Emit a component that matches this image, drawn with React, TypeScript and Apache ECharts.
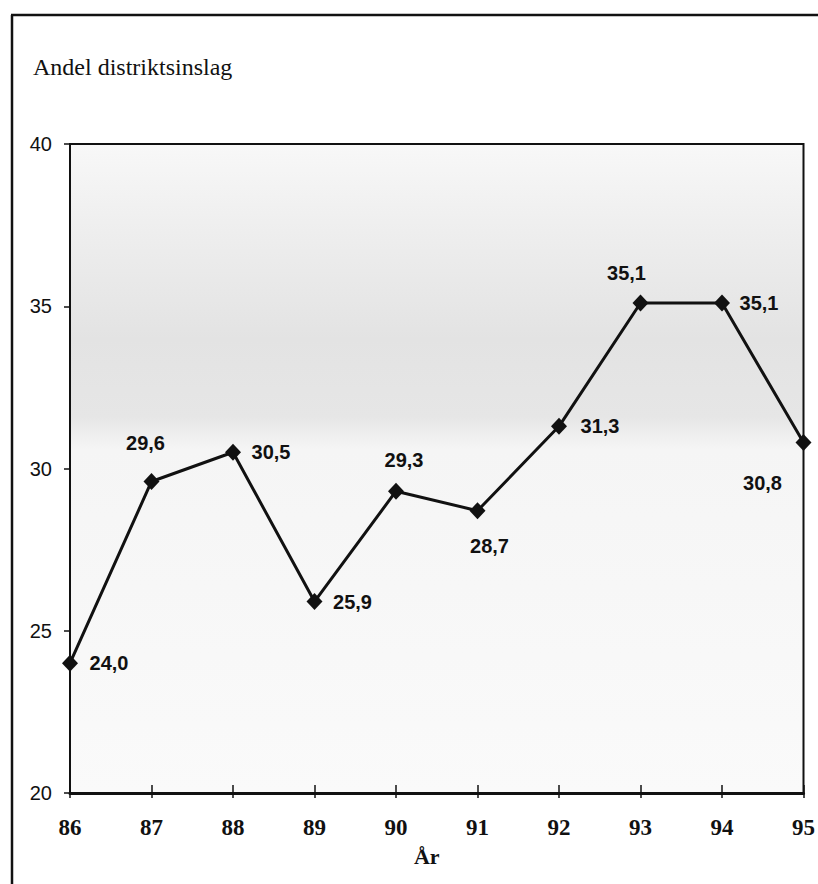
import React, { useEffect, useRef } from "react";
import * as echarts from "echarts";

const years = ["86", "87", "88", "89", "90", "91", "92", "93", "94", "95"];
const shares = [24.0, 29.6, 30.5, 25.9, 29.3, 28.7, 31.3, 35.1, 35.1, 30.8];
// label offsets (dx, dy) from the marker centre
const labelOffsets: [number, number][] = [
  [39, 0],
  [-6, -38],
  [38, 0],
  [38, 0],
  [8, -31],
  [12, 35],
  [41, 0],
  [-14, -30],
  [37, 0],
  [-41, 40],
];
const yTicks = { min: 20, max: 40, interval: 5 };
const titleText = "Andel distriktsinslag";
const xName = "År";

export default function App() {
  const ref = useRef<HTMLDivElement>(null);
  useEffect(() => {
    if (!ref.current) return;
    const chart = echarts.init(ref.current, null, { renderer: "svg" });
    const fmt = (v: number) => v.toFixed(1).replace(".", ",");
    chart.setOption({
      animation: false,
      backgroundColor: "#ffffff",
      title: {
        text: titleText,
        left: 33,
        top: 55,
        padding: 0,
        textStyle: {
          fontFamily: "Liberation Serif",
          fontSize: 24,
          fontWeight: "normal",
          color: "#111",
        },
      },
      graphic: [
        { type: "line", shape: { x1: 11, y1: 15, x2: 818, y2: 15 }, style: { stroke: "#111", lineWidth: 2.5 } },
        { type: "line", shape: { x1: 12, y1: 15, x2: 12, y2: 884 }, style: { stroke: "#111", lineWidth: 2.5 } },
      ],
      grid: {
        left: 70,
        right: 13,
        top: 144,
        bottom: 91,
        show: true,
        borderColor: "#111",
        borderWidth: 2,
        backgroundColor: {
          type: "linear",
          x: 0,
          y: 0,
          x2: 0,
          y2: 1,
          colorStops: [
            { offset: 0, color: "#f8f8f8" },
            { offset: 0.12, color: "#efefef" },
            { offset: 0.3, color: "#e3e3e3" },
            { offset: 0.42, color: "#e6e6e6" },
            { offset: 0.47, color: "#f5f5f5" },
            { offset: 1, color: "#fafafa" },
          ],
        },
      },
      xAxis: [
        {
          type: "category",
          data: years,
          boundaryGap: false,
          name: xName,
          nameLocation: "middle",
          nameGap: 52,
          nameTextStyle: {
            fontFamily: "Liberation Serif",
            fontSize: 22,
            fontWeight: "bold",
            color: "#111",
            padding: [0, 20, 0, 0],
          },
          axisLine: { lineStyle: { color: "#111", width: 3 } },
          axisTick: { inside: true, length: 8, lineStyle: { color: "#111", width: 1.5 } },
          axisLabel: {
            margin: 23,
            fontFamily: "Liberation Serif",
            fontSize: 23,
            fontWeight: "bold",
            color: "#111",
          },
          splitLine: { show: false },
        },
        {
          type: "category",
          data: years,
          boundaryGap: false,
          position: "bottom",
          axisLine: { show: false },
          axisTick: { inside: false, length: 5, lineStyle: { color: "#111", width: 1.5 } },
          axisLabel: { show: false },
          splitLine: { show: false },
        },
      ],
      yAxis: {
        type: "value",
        min: yTicks.min,
        max: yTicks.max,
        interval: yTicks.interval,
        axisLine: { show: true, lineStyle: { color: "#111", width: 2 } },
        axisTick: { show: true, length: 6, lineStyle: { color: "#111", width: 1.5 } },
        axisLabel: {
          margin: 18,
          fontFamily: "Liberation Sans",
          fontSize: 20,
          color: "#111",
        },
        splitLine: { show: false },
      },
      series: [
        {
          type: "line",
          xAxisIndex: 0,
          data: shares.map((v, i) => ({
            value: v,
            label: {
              show: true,
              position: "inside",
              align: "center",
              verticalAlign: "middle",
              offset: labelOffsets[i],
            },
          })),
          symbol: "diamond",
          symbolSize: [16, 17],
          lineStyle: { color: "#111", width: 3 },
          itemStyle: { color: "#111" },
          label: {
            formatter: (p: any) => fmt(p.value),
            fontFamily: "Liberation Sans",
            fontSize: 20,
            fontWeight: "bold",
            color: "#111",
          },
        },
      ],
    });
    return () => chart.dispose();
  }, []);
  return (
    <div
      ref={ref}
      style={{ position: "absolute", left: 0, top: 0, width: 818, height: 884 }}
    />
  );
}
